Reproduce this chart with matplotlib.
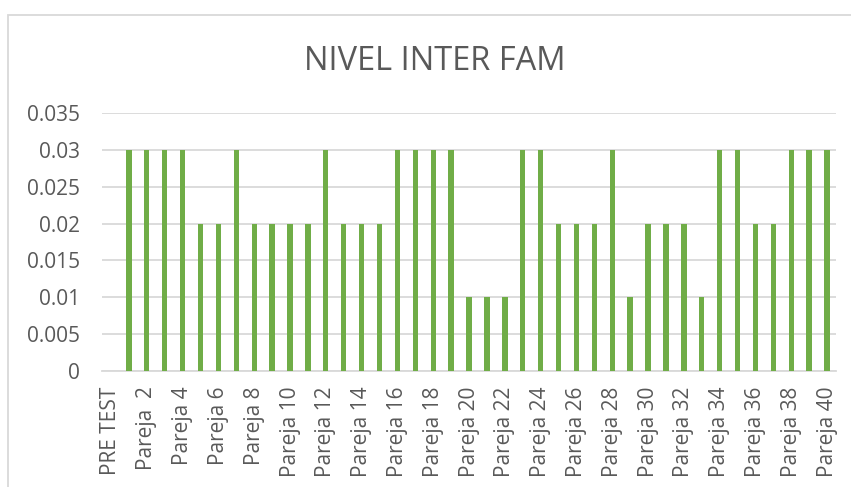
import matplotlib.pyplot as plt
from matplotlib.patches import Rectangle

categories = ["PRE TEST", "Pareja 1", "Pareja  2"] + ["Pareja %d" % i for i in range(3, 41)]
values = [0,
          0.03, 0.03, 0.03, 0.03, 0.02, 0.02, 0.03, 0.02, 0.02, 0.02,
          0.02, 0.03, 0.02, 0.02, 0.02, 0.03, 0.03, 0.03, 0.03, 0.01,
          0.01, 0.01, 0.03, 0.03, 0.02, 0.02, 0.02, 0.03, 0.01, 0.02,
          0.02, 0.02, 0.01, 0.03, 0.03, 0.02, 0.02, 0.03, 0.03, 0.03]
yticks = [0, 0.005, 0.01, 0.015, 0.02, 0.025, 0.03, 0.035]
ytick_labels = ["0", "0.005", "0.01", "0.015", "0.02", "0.025", "0.03", "0.035"]
title = "NIVEL INTER FAM"

text_color = "#595959"
grid_color = "#D9D9D9"
bar_color = "#70AD47"

plt.rcParams['font.family'] = ['Open Sans', 'DejaVu Sans']

fig = plt.figure(figsize=(8.51, 4.87), dpi=100)
ax = fig.add_axes([0.1199, 0.2382, 0.8625, 0.5298])

x = list(range(len(categories)))
ax.bar(x, values, width=0.3, color=bar_color, zorder=3)

ax.set_xlim(-0.5, len(categories) - 0.5)
ax.set_ylim(0, 0.035)
ax.set_yticks(yticks)
ax.set_yticklabels(ytick_labels)
ax.set_xticks(x[::2])
ax.set_xticklabels(categories[::2], rotation=90, ha="center", va="top")

ax.yaxis.grid(True, color=grid_color, linewidth=1.3, zorder=0)
for s in ["top", "right", "left"]:
    ax.spines[s].set_visible(False)
ax.spines["bottom"].set_color(grid_color)
ax.spines["bottom"].set_linewidth(1.3)
ax.tick_params(axis="both", length=0, labelsize=15, colors=text_color)
ax.tick_params(axis="y", pad=16)
ax.tick_params(axis="x", pad=11)

fig.text(0.511, 0.874, title, ha="center", va="center", fontsize=23.5, color=text_color)

# chart border
fig.patches.append(Rectangle((8 / 851, -0.1), 1.1, 1.1 - 15 / 487, transform=fig.transFigure,
                             fill=False, edgecolor=grid_color, linewidth=1.3))

plt.savefig("out.png", dpi=100)
